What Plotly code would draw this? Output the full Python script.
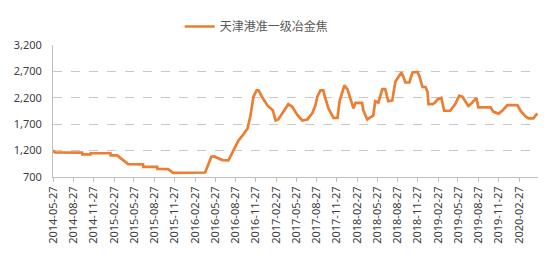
import plotly.graph_objects as go

series_name = "天津港准一级冶金焦"

dates = [
    "2014-05-27", "2014-06-05", "2014-10-05", "2014-10-06", "2014-11-12", "2014-11-13",
    "2015-02-10", "2015-02-11", "2015-03-12", "2015-03-30", "2015-04-17", "2015-05-01",
    "2015-07-07", "2015-07-08", "2015-09-09", "2015-09-10", "2015-10-28", "2015-11-20",
    "2016-04-12", "2016-04-26", "2016-05-10", "2016-05-23", "2016-06-29", "2016-07-26",
    "2016-08-17", "2016-09-09", "2016-10-02", "2016-10-20", "2016-11-02", "2016-11-16",
    "2016-11-30", "2016-12-09", "2016-12-27", "2017-01-19", "2017-02-11", "2017-02-24",
    "2017-03-08", "2017-03-30", "2017-04-22", "2017-05-10", "2017-06-01", "2017-06-24",
    "2017-07-17", "2017-08-08", "2017-08-22", "2017-08-31", "2017-09-14", "2017-09-27",
    "2017-10-02", "2017-10-20", "2017-11-12", "2017-11-30", "2017-12-09", "2017-12-22",
    "2017-12-31", "2018-01-14", "2018-01-28", "2018-02-10", "2018-02-19", "2018-03-21",
    "2018-03-26", "2018-04-13", "2018-04-27", "2018-05-10", "2018-05-19", "2018-06-02",
    "2018-06-20", "2018-07-03", "2018-07-17", "2018-08-04", "2018-08-18", "2018-08-31",
    "2018-09-14", "2018-09-23", "2018-10-02", "2018-10-20", "2018-11-03", "2018-11-26",
    "2018-12-05", "2018-12-18", "2019-01-01", "2019-01-10", "2019-01-14", "2019-02-01",
    "2019-02-10", "2019-02-24", "2019-03-13", "2019-03-26", "2019-04-22", "2019-05-15",
    "2019-06-02", "2019-06-16", "2019-06-29", "2019-07-13", "2019-07-31", "2019-08-18",
    "2019-08-27", "2019-10-21", "2019-11-03", "2019-11-26", "2019-12-14", "2020-01-05",
    "2020-02-19", "2020-03-04", "2020-03-26", "2020-04-09", "2020-05-01", "2020-05-19",
]
prices = [
    1200, 1165, 1160, 1130, 1130, 1150,
    1150, 1110, 1110, 1045, 990, 945,
    940, 890, 890, 855, 850, 780,
    785, 950, 1085, 1090, 1020, 1015,
    1190, 1390, 1510, 1620, 1850, 2220,
    2340, 2340, 2200, 2050, 1965, 1770,
    1790, 1940, 2080, 2030, 1880, 1770,
    1790, 1905, 2050, 2220, 2340, 2340,
    2250, 2000, 1820, 1820, 2135, 2310,
    2435, 2360, 2165, 2000, 2105, 2105,
    1965, 1790, 1830, 1860, 2135, 2110,
    2365, 2365, 2135, 2150, 2510, 2600,
    2680, 2600, 2490, 2490, 2680, 2690,
    2600, 2405, 2405, 2310, 2080, 2080,
    2100, 2170, 2200, 1955, 1955, 2080,
    2240, 2220, 2130, 2045, 2110, 2200,
    2020, 2020, 1935, 1900, 1960, 2060,
    2060, 1955, 1850, 1810, 1810, 1905,
]

tick_dates = [
    "2014-05-27", "2014-08-27", "2014-11-27", "2015-02-27", "2015-05-27", "2015-08-27",
    "2015-11-27", "2016-02-27", "2016-05-27", "2016-08-27", "2016-11-27", "2017-02-27",
    "2017-05-27", "2017-08-27", "2017-11-27", "2018-02-27", "2018-05-27", "2018-08-27",
    "2018-11-27", "2019-02-27", "2019-05-27", "2019-08-27", "2019-11-27", "2020-02-27",
]
y_ticks = [700, 1200, 1700, 2200, 2700, 3200]

fig = go.Figure()
fig.add_trace(go.Scatter(
    x=dates, y=prices, mode="lines", name=series_name,
    line=dict(color="#ED7D31", width=2.7),
))

fig.update_layout(
    width=550, height=256,
    margin=dict(l=53, r=12, t=35, b=76),
    paper_bgcolor="white", plot_bgcolor="white",
    font=dict(family="Noto Sans, Noto Sans CJK SC", size=11, color="#595959"),
    showlegend=True,
    legend=dict(
        orientation="h", x=0.42, xanchor="center", y=1.14, yanchor="middle",
        font=dict(family="Noto Sans CJK SC", size=12, color="#595959"),
        bgcolor="rgba(0,0,0,0)", itemwidth=30,
    ),
    xaxis=dict(
        type="date",
        range=["2014-05-27", "2020-05-22"],
        tickmode="array", tickvals=tick_dates, ticktext=tick_dates,
        tickangle=-90,
        ticks="outside", ticklen=4, tickcolor="#bfbfbf",
        showline=True, linecolor="#bfbfbf", linewidth=1,
        showgrid=False, zeroline=False,
        tickfont=dict(size=11, color="#404040"),
    ),
    yaxis=dict(
        range=[700, 3200],
        tickmode="array", tickvals=y_ticks,
        tickformat=",",
        showline=True, linecolor="#bfbfbf", linewidth=1,
        showgrid=True, gridcolor="#c8c8c8", griddash="dash", gridwidth=1,
        zeroline=False, ticks="",
        ticklabelstandoff=8,
        tickfont=dict(size=11, color="#404040"),
    ),
)

fig.write_html("out.html")
